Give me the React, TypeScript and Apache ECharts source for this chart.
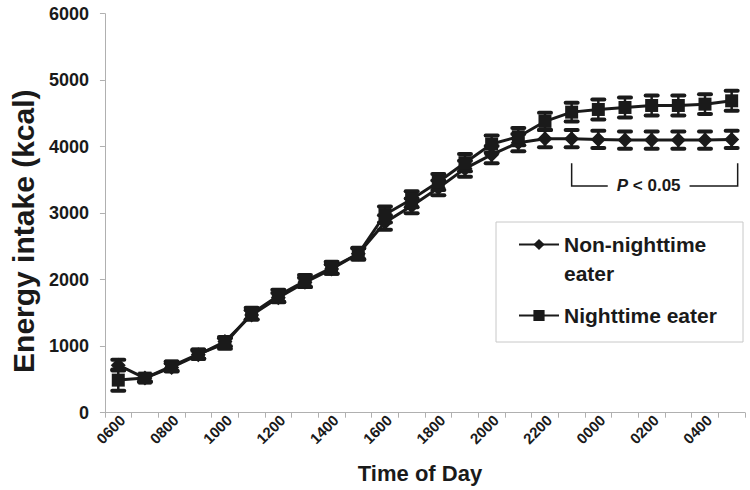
import React, { useEffect, useRef } from "react";
import * as echarts from "echarts";

const categories = ["0600","0700","0800","0900","1000","1100","1200","1300","1400","1500","1600","1700","1800","1900","2000","2100","2200","2300","0000","0100","0200","0300","0400","0500"];
const nonNight = [715, 520, 680, 870, 1070, 1470, 1730, 1960, 2160, 2390, 2860, 3110, 3380, 3670, 3880, 4060, 4120, 4120, 4110, 4100, 4100, 4100, 4100, 4110];
const nonErr = [80, 50, 60, 60, 70, 70, 70, 70, 70, 80, 110, 110, 110, 120, 130, 130, 130, 130, 130, 130, 130, 130, 130, 130];
const night = [490, 520, 700, 880, 1040, 1490, 1760, 1980, 2180, 2390, 2980, 3210, 3470, 3760, 4040, 4150, 4380, 4520, 4560, 4590, 4620, 4620, 4640, 4690];
const nightErr = [160, 60, 70, 70, 80, 90, 90, 90, 90, 90, 120, 120, 120, 130, 130, 130, 130, 140, 150, 150, 150, 150, 150, 150];
const bracketStart = 17;
const bracketEnd = 23;
const bracketTop = 3750;
const bracketBottom = 3410;

const FONT = "'Liberation Sans', Arial, sans-serif";
const INK = "#1a1a1a";
const AXIS = "#b0b0b0";

function errData(vals: number[], errs: number[]) {
  return vals.map((v, i) => [i, v - errs[i], v + errs[i]]);
}

function renderErr(params: any, api: any) {
  const x = api.value(0);
  const lo = api.coord([x, api.value(1)]);
  const hi = api.coord([x, api.value(2)]);
  const w = 6;
  const st = { stroke: INK, lineWidth: 2.5 };
  const cap = { stroke: INK, lineWidth: 4, lineCap: "round" };
  return {
    type: "group",
    children: [
      { type: "line", shape: { x1: lo[0], y1: lo[1], x2: hi[0], y2: hi[1] }, style: st },
      { type: "line", shape: { x1: lo[0] - w, y1: lo[1], x2: lo[0] + w, y2: lo[1] }, style: cap },
      { type: "line", shape: { x1: hi[0] - w, y1: hi[1], x2: hi[0] + w, y2: hi[1] }, style: cap },
    ],
  };
}

export default function App() {
  const ref = useRef<HTMLDivElement>(null);
  useEffect(() => {
    if (!ref.current) return;
    const chart = echarts.init(ref.current, null, { renderer: "svg" });
    const option: any = {
      animation: false,
      backgroundColor: "#ffffff",
      textStyle: { fontFamily: FONT },
      grid: { left: 90, right: 5, top: 13.7, bottom: 77.3, containLabel: false },
      xAxis: {
        type: "category",
        data: categories,
        boundaryGap: true,
        name: "Time of Day",
        nameLocation: "middle",
        nameGap: 50,
        nameTextStyle: { fontFamily: FONT, fontSize: 22, fontWeight: "bold", color: INK, padding: [0, 10, 0, 0] },
        axisLine: { lineStyle: { color: AXIS, width: 1 } },
        axisTick: { show: true, interval: 0, length: 5, lineStyle: { color: AXIS } },
        axisLabel: {
          interval: 1,
          rotate: 45,
          fontFamily: FONT,
          fontSize: 15,
          fontWeight: "bold",
          color: INK,
          margin: 9,
          padding: [0, -6, 0, 0],
        },
        splitLine: { show: false },
      },
      yAxis: {
        type: "value",
        min: 0,
        max: 6000,
        interval: 1000,
        name: "Energy intake (kcal)",
        nameLocation: "middle",
        nameGap: 64,
        nameTextStyle: {
          fontFamily: FONT,
          fontSize: 30,
          fontWeight: "bold",
          color: INK,
          padding: [0, 36, 0, 0],
        },
        axisLine: { show: true, lineStyle: { color: AXIS, width: 1 } },
        axisTick: { show: true, length: 5, lineStyle: { color: AXIS } },
        axisLabel: {
          fontFamily: FONT,
          fontSize: 18,
          fontWeight: "bold",
          color: INK,
          margin: 16,
          formatter: (v: number) => String(v),
        },
        splitLine: { show: false },
      },
      legend: [
        {
          left: 518,
          top: 201,
          padding: 0,
          itemWidth: 40,
          itemHeight: 14,
          data: ["Non-nighttime eater"],
          formatter: () => "\nNon-nighttime\neater",
          textStyle: { fontFamily: FONT, fontSize: 21, fontWeight: "bold", color: INK, lineHeight: 29 },
        },
        {
          left: 518,
          top: 305,
          padding: 0,
          itemWidth: 40,
          itemHeight: 14,
          data: ["Nighttime eater"],
          textStyle: { fontFamily: FONT, fontSize: 21, fontWeight: "bold", color: INK },
        },
      ],
      series: [
        {
          name: "Non-nighttime eater err",
          type: "custom",
          renderItem: renderErr,
          data: errData(nonNight, nonErr),
          encode: { x: 0, y: [1, 2] },
          z: 1,
        },
        {
          name: "Nighttime eater err",
          type: "custom",
          renderItem: renderErr,
          data: errData(night, nightErr),
          encode: { x: 0, y: [1, 2] },
          z: 1,
        },
        {
          name: "Non-nighttime eater",
          type: "line",
          data: nonNight,
          symbol: "diamond",
          symbolSize: 15,
          lineStyle: { color: INK, width: 3 },
          itemStyle: { color: INK },
          z: 3,
        },
        {
          name: "Nighttime eater",
          type: "line",
          data: night,
          symbol: "rect",
          symbolSize: 13,
          lineStyle: { color: INK, width: 3 },
          itemStyle: { color: INK },
          z: 3,
        },
      ],
    };
    chart.setOption(option);

    const pTopL = chart.convertToPixel({ gridIndex: 0 }, [bracketStart, bracketTop]) as number[];
    const pBotL = chart.convertToPixel({ gridIndex: 0 }, [bracketStart, bracketBottom]) as number[];
    const pEnd = chart.convertToPixel({ gridIndex: 0 }, [bracketEnd, bracketBottom]) as number[];
    const xL = pTopL[0];
    const xR = pEnd[0] + 6;
    const yT = pTopL[1];
    const yB = pBotL[1];
    chart.setOption({
      graphic: [
        {
          type: "polyline",
          shape: { points: [[xL, yT], [xL, yB], [xR, yB], [xR, yT]] },
          style: { stroke: INK, lineWidth: 1.5, fill: null },
          z: 10,
        },
        {
          type: "text",
          x: (xL + xR) / 2 - 6,
          y: yB,
          style: {
            text: "{i|P} < 0.05",
            align: "center",
            verticalAlign: "middle",
            fontFamily: FONT,
            fontSize: 17,
            fontWeight: "bold",
            fill: INK,
            backgroundColor: "#ffffff",
            padding: [2, 9],
            rich: { i: { fontStyle: "italic", fontWeight: "bold", fontSize: 17, fontFamily: FONT, fill: INK } },
          },
          z: 11,
        },
        {
          type: "rect",
          shape: { x: 496, y: 222, width: 247, height: 120 },
          style: { fill: null, stroke: "#c8c8c8", lineWidth: 1 },
          z: 5,
        },
      ],
    });

    return () => chart.dispose();
  }, []);
  return <div ref={ref} style={{ position: "absolute", left: 0, top: 0, width: 750, height: 490 }} />;
}
